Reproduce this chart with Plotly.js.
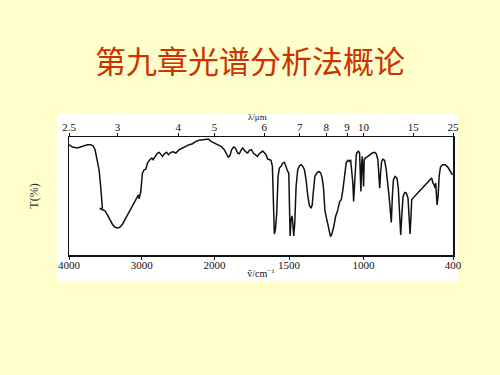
<!DOCTYPE html>
<html>
<head>
<meta charset="utf-8">
<script src="https://cdn.plot.ly/plotly-3.0.1.min.js"></script>
<style>html,body{margin:0;padding:0;background:#FFFFCC;}#chart{width:500px;height:375px;}</style>
</head>
<body>
<div id="chart"></div>
<script>
const wavenumber = [
 4000,3954,3885,3817,3748,3702,3670,3642,3624,3606,3587,3569,3550,3541,3578,3560,3523,3505,3472,3440,3404,3367,3335,3303,3266,3220,3174,3128,3092,3069,3046,3037,3014,2991,2968,2945,2922,2890,2862,2844,2817,2784,2761,2739,2716,2688,2661,2633,2601,2569,2532,2486,2440,2395,2349,2303,2257,2211,2165,2119,2083,2050,2005,
 1980,1957,1935,1919,1908,1897,1886,1872,1861,1845,1834,1823,1812,1794,1778,1767,1753,1740,1726,1713,1700,1688,1677,1664,1655,1643,1632,1621,1612,1605,1599,1592,1583,1574,1565,1554,1543,1531,1520,1509,1502,1498,1493,1487,1480,1475,1469,1462,1453,1442,1430,1419,1408,1397,1386,1374,1363,1352,1345,1336,1327,1314,1300,1287,1278,1269,1260,1251,1240,1229,1222,1213,1200,1188,1173,1161,1150,1139,1128,1117,1105,1094,1087,1081,1072,1067,1063,1056,1049,1043,1034,1027,1022,1018,1013,1009,1005,1000,996,989,978,960,942,926,915,904,897,892,886,879,870,859,848,839,830,821,814,807,800,789,776,767,758,751,744,735,724,713,702,695,688,682,677,668,650,628,605,583,561,543,534,527,520,516,507,500,493,484,471,453,435,417,404
];
// Transmittance (%) at each point
const transmittance = [
 93.5,91.5,90.7,92.1,93.5,93.5,92.6,89.2,83.6,79.3,72.2,60.9,49.6,39.7,39.4,38.8,38.2,37.4,34.0,29.7,26.1,23.5,22.9,23.5,26.1,31.2,36.8,41.6,46.7,49.6,51.0,47.6,53.8,69.4,72.2,72.8,77.9,80.7,82.2,80.7,83.6,86.4,87.0,85.0,83.6,85.8,87.0,85.0,87.0,87.5,86.4,89.2,90.7,92.1,93.5,94.3,96.3,97.2,97.7,97.7,98.3,96.3,94.9,
 93.5,92.1,89.2,85.8,83.0,84.1,89.2,91.5,90.7,86.4,85.8,88.7,90.7,87.8,86.4,88.7,89.2,86.4,85.0,83.6,85.8,87.0,88.1,86.4,85.0,81.3,80.7,80.2,75.1,49.6,17.8,21.2,35.4,66.6,73.7,75.1,77.9,78.5,73.7,70.8,69.4,49.6,16.1,29.7,33.1,26.9,16.1,26.9,58.1,72.2,75.6,76.5,75.1,72.2,63.7,49.6,41.6,39.7,42.5,55.2,66.6,69.4,70.8,69.4,65.2,56.7,38.2,32.6,26.9,19.8,15.6,17.8,24.1,32.6,38.2,45.3,46.7,55.2,66.6,77.9,80.2,79.3,80.7,72.2,60.9,45.3,55.2,72.2,85.0,87.0,87.8,86.4,72.2,53.8,77.9,83.6,72.2,58.1,80.7,82.2,83.0,85.0,86.4,87.0,85.8,80.7,69.4,56.7,69.4,79.3,81.3,80.2,72.2,63.7,51.0,38.2,27.5,49.6,63.7,66.6,65.2,56.7,35.4,17.0,32.6,49.6,53.0,52.4,48.2,35.4,17.8,32.6,46.7,48.2,51.0,53.8,56.7,59.5,62.3,65.2,60.9,59.5,56.7,60.9,42.5,49.6,66.6,74.5,76.5,76.5,74.5,70.8,68.0
];
// Bottom axis tick labels (wavenumber, cm^-1)
const wavenumberTicks = [4000, 3000, 2000, 1500, 1000, 400];
// Top axis tick labels (wavelength, um)
const wavelengthTicks = [2.5, 3, 4, 5, 6, 7, 8, 9, 10, 15, 25];
const titleText = "第九章光谱分析法概论";
const topAxisTitle = "λ/μm";

// IR chart scale: compressed above 2000 cm^-1
function toU(nu) { return nu >= 2000 ? (4000 - nu) * 0.4885 : 977 + (2000 - nu); }
const uMax = toU(400);

const xs = wavenumber.map(toU);
const trace = {
  x: xs, y: transmittance, type: 'scatter', mode: 'lines',
  line: {color: '#111', width: 1.5, shape: 'linear'}, hoverinfo: 'skip', showlegend: false
};
const trace2 = {x: [0, uMax], y: [-10, -10], xaxis: 'x2', yaxis: 'y', mode: 'lines',
  line: {width: 0}, showlegend: false, hoverinfo: 'skip'};

const serif = 'Liberation Serif, Times New Roman, serif';
const layout = {
  width: 500, height: 375,
  paper_bgcolor: '#FFFFCC', plot_bgcolor: '#FFFFFF',
  margin: {l: 69, r: 47, t: 137, b: 120},
  title: {text: titleText, font: {family: 'Noto Sans CJK SC, sans-serif', size: 31, color: '#CC3300'},
          x: 0.5, xanchor: 'center', xref: 'container', y: 1 - 62/375, yref: 'container', yanchor: 'middle'},
  xaxis: {
    range: [0, uMax], showgrid: false, zeroline: false,
    showline: true, linecolor: '#111', linewidth: 1.5,
    tickmode: 'array', tickvals: wavenumberTicks.map(toU), ticktext: wavenumberTicks.map(String),
    ticks: 'outside', ticklen: 3, tickcolor: '#111', tickwidth: 1, ticklabelstandoff: -4,
    tickfont: {family: serif, size: 11, color: '#111'},
    title: {text: 'ṽ/cm<sup>−1</sup>', font: {family: serif, size: 10, color: '#111'}, standoff: 0}
  },
  xaxis2: {
    overlaying: 'x', side: 'top', range: [0, uMax], showgrid: false, zeroline: false,
    showline: true, linecolor: '#111', linewidth: 1.5,
    tickmode: 'array', tickvals: wavelengthTicks.map(l => toU(10000 / l)), ticktext: wavelengthTicks.map(String),
    ticks: 'outside', ticklen: 3, tickcolor: '#111', tickwidth: 1, ticklabelstandoff: -3,
    tickfont: {family: serif, size: 11, color: '#111'}
  },
  yaxis: {
    range: [0, 100], showgrid: false, zeroline: false,
    showline: true, mirror: true, linecolor: '#111', linewidth: 1.5,
    showticklabels: false, ticks: '',
    title: {text: 'T(%)', font: {family: serif, size: 12, color: '#333'}, standoff: 26}
  },
  annotations: [{
    text: topAxisTitle, xref: 'paper', yref: 'paper', x: 0.492, y: 1.168,
    xanchor: 'center', yanchor: 'middle', showarrow: false,
    font: {family: serif, size: 9, color: '#111'}
  }],
  shapes: [{
    type: 'rect', xref: 'paper', yref: 'paper', layer: 'below',
    x0: -0.032, x1: 1.011, y0: -0.221, y1: 1.198,
    fillcolor: '#FFFFFF', line: {width: 0}
  }]
};
Plotly.newPlot('chart', [trace, trace2], layout, {staticPlot: true, displayModeBar: false});
</script>
</body>
</html>
